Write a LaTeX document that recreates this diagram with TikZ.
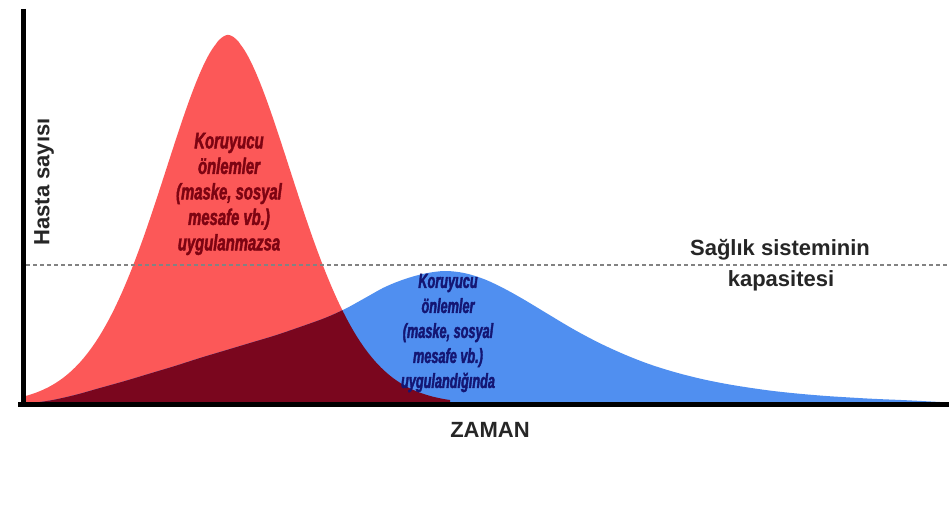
\documentclass[tikz,border=0pt]{standalone}
\usepackage{fontspec}
\setmainfont{Liberation Sans}
\newfontfamily\condred[FakeStretch=0.66,FakeBold=1.8]{Liberation Sans}
\newfontfamily\condblue[FakeStretch=0.62,FakeBold=1.8]{Liberation Sans}
\definecolor{redfill}{RGB}{252,88,88}
\definecolor{bluefill}{RGB}{80,143,240}
\definecolor{darkfill}{RGB}{122,6,30}
\definecolor{redtext}{RGB}{125,4,18}
\definecolor{bluetext}{RGB}{20,22,115}
\definecolor{capgray}{RGB}{130,130,130}
\tikzset{
  axisline/.style={line width=5pt, black},
  capline/.style={capgray, line width=1.2pt, dash pattern=on 4pt off 3pt},
  redlabel/.style={text=redtext, align=center, inner sep=0pt,
    font=\condred\bfseries\itshape\fontsize{22.5}{25.5}\selectfont},
  bluelabel/.style={text=bluetext, align=center, inner sep=0pt,
    font=\condblue\bfseries\itshape\fontsize{20.5}{25}\selectfont},
  axislabel/.style={text=black!85, inner sep=0pt, font=\bfseries\fontsize{22}{26}\selectfont}
}
\def\redcurve{(26,404) -- plot[domain=26:450,samples=260] (\x,{404-369*exp(-((abs(\x-228)/96)^1.8))}) -- (450,404) -- cycle}
\def\bluecurve{plot[smooth,tension=0.55] coordinates {(24,404) (50,400.5) (75,395) (100,388) (125,381) (150,373.5) (175,366) (200,358) (225,350.5) (250,343) (275,335.5) (300,327) (325,318) (345,309) (365,298) (385,287) (405,279) (425,273.5) (445,271) (465,273.2) (485,279.5) (505,289) (525,300.2) (550,315.3) (575,330.1) (600,343.3) (625,354.7) (650,364.4) (675,372.2) (700,378.6) (725,383.7) (750,387.8) (775,391.2) (800,393.8) (825,395.9) (850,397.5) (875,398.9) (910,400.4) (949,402.5)} -- (949,404) -- cycle}
\begin{document}
\begin{tikzpicture}[x=1pt,y=-1pt]
\useasboundingbox (0,0) rectangle (949,529);
\fill[white] (0,0) rectangle (949,529);
% curves
\fill[redfill] \redcurve;
\fill[bluefill] \bluecurve;
\begin{scope}
  \clip \redcurve;
  \fill[darkfill] \bluecurve;
\end{scope}
% capacity line
\coordinate (capL) at (26,265);
\coordinate (capR) at (949,265);
\draw[capline] (capL) -- (capR);
% axes
\coordinate (ytop) at (23,9);
\coordinate (orig) at (23,404);
\coordinate (xend) at (949,404);
\coordinate (xstart) at (18,404);
\draw[axisline] (ytop) -- (orig);
\draw[axisline] (xstart) -- (xend);
% labels
\node[axislabel, rotate=90] (ylab) at (44,182) {Hasta sayısı};
\node[axislabel] (xlab) at (490,430) {ZAMAN};
\node[axislabel] (cap1) at (780,250) {Sağlık sisteminin};
\node[axislabel] (cap2) at (781,281) {kapasitesi};
\node[redlabel] (redtxt) at (229,194) {Koruyucu\\önlemler\\(maske, sosyal\\mesafe vb.)\\uygulanmazsa};
\node[bluelabel] (bluetxt) at (448,333) {Koruyucu\\önlemler\\(maske, sosyal\\mesafe vb.)\\uygulandığında};
\end{tikzpicture}
\end{document}
